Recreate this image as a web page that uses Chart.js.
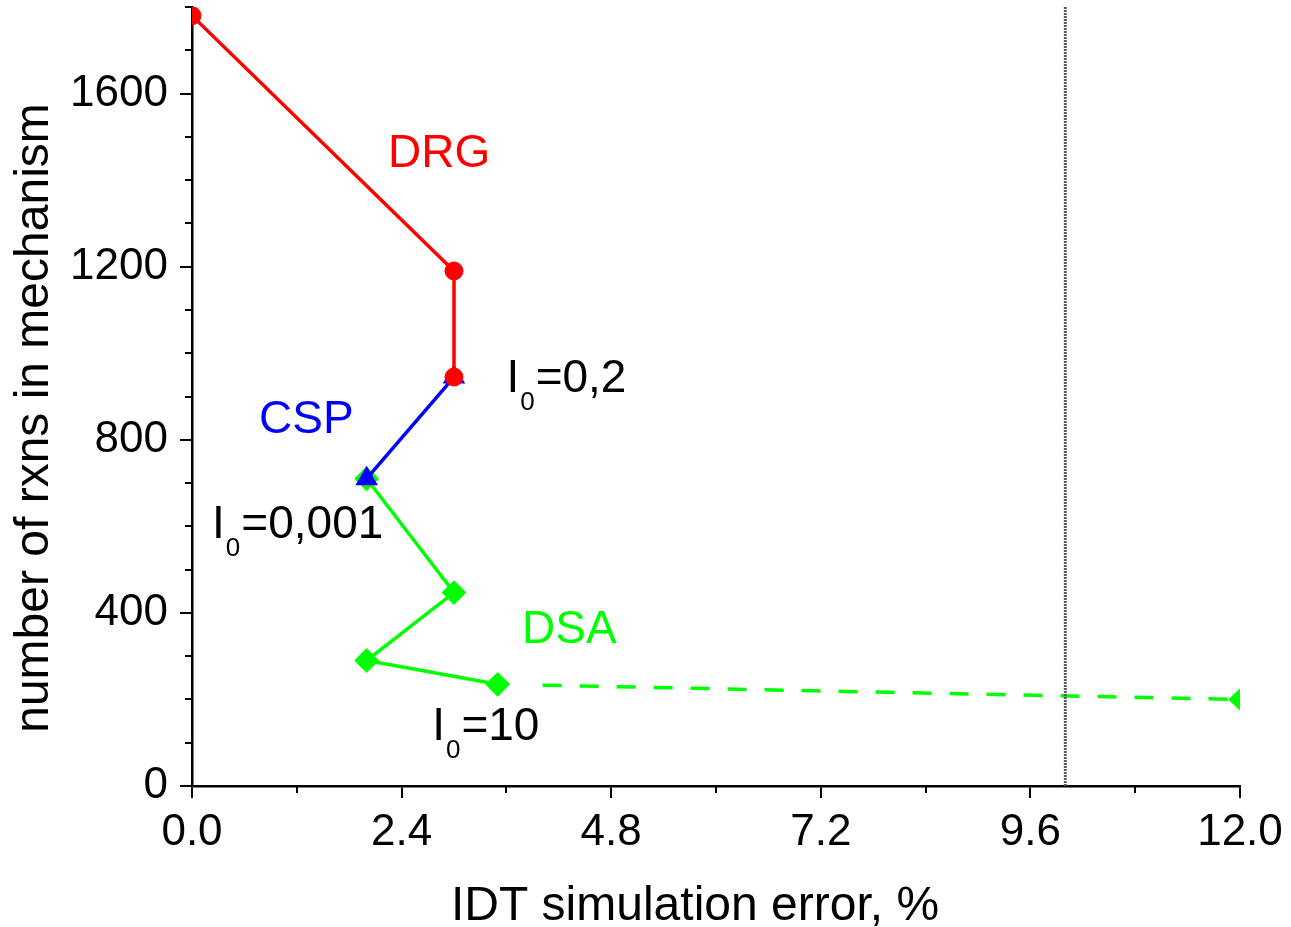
<!DOCTYPE html>
<html>
<head>
<meta charset="utf-8">
<title>Reduced mechanism size vs IDT error</title>
<script src="https://cdn.jsdelivr.net/npm/chart.js@4.4.1/dist/chart.umd.min.js"></script>
<style>
  html, body { margin: 0; padding: 0; background: #fff; }
  #wrap { width: 1291px; height: 927px; }
</style>
</head>
<body>
<div id="wrap"><canvas id="chart" width="1291" height="927"></canvas></div>
<script>
// IDT simulation error (%) and number of reactions for each reduction method
const drgError = [0, 3.0, 3.0];
const drgRxns = [1780, 1190, 945];

const cspError = [3.0, 2.0];
const cspRxns = [945, 710];

const dsaError = [2.0, 3.0, 2.0, 3.5];
const dsaRxns = [710, 447, 290, 235];

// dashed continuation of DSA towards the off-scale point
const dsaTailError = [3.5, 12.0];
const dsaTailRxns = [235, 200];

// vertical limit line
const limitError = 10.0;
const rxnRange = [0, 1800];

const xTicks = [0, 2.4, 4.8, 7.2, 9.6, 12.0];
const xMinorTicks = [1.2, 3.6, 6.0, 8.4, 10.8];
const yTicks = [0, 400, 800, 1200, 1600];
const yMinorTicks = [100, 200, 300, 500, 600, 700, 900, 1000, 1100, 1300, 1400, 1500, 1700, 1800];

// method names, placed at [error, rxns] (text baseline)
const methodNames = ['DRG', 'CSP', 'DSA'];
const methodNamePos = [[2.83, 1430], [1.31, 815], [4.32, 330]];

// I0 threshold notes, placed at [error, rxns] (left edge, baseline)
const thresholdValues = ['0,2', '0,001', '10'];
const thresholdPos = [[3.6, 910], [0.23, 573], [2.75, 106]];

const xTitle = 'IDT simulation error, %';
const yTitle = 'number of rxns in mechanism';

const RED = '#ff0000';
const BLUE = '#0000ff';
const GREEN = '#00ff00';
const FONT = '"Liberation Sans", Arial, sans-serif';

function toPoints(xs, ys) {
    return xs.map((x, i) => ({ x: x, y: ys[i] }));
}

// long gap first so the dashes line up with the original
const tailDash = [0, 45];
for (let i = 0; i < 24; i++) tailDash.push(19, 18);

// squat left-pointing arrow head for the off-scale point
const arrowHead = document.createElement('canvas');
arrowHead.width = 26;
arrowHead.height = 26;
(function () {
    const c = arrowHead.getContext('2d');
    c.fillStyle = GREEN;
    c.beginPath();
    c.moveTo(1, 13);
    c.lineTo(13, 2);
    c.lineTo(13, 24);
    c.closePath();
    c.fill();
})();

const overlay = {
    id: 'overlay',
    afterDraw(chart) {
        const ctx = chart.ctx;
        const xs = chart.scales.x;
        const ys = chart.scales.y;
        ctx.save();

        // minor ticks
        ctx.strokeStyle = '#000';
        ctx.lineWidth = 2;
        xMinorTicks.forEach(v => {
            const px = Math.round(xs.getPixelForValue(v));
            ctx.beginPath();
            ctx.moveTo(px, xs.top);
            ctx.lineTo(px, xs.top + 7);
            ctx.stroke();
        });
        yMinorTicks.forEach(v => {
            const py = Math.round(ys.getPixelForValue(v));
            ctx.beginPath();
            ctx.moveTo(ys.right, py);
            ctx.lineTo(ys.right - 7, py);
            ctx.stroke();
        });

        // method names
        const colors = [RED, BLUE, GREEN];
        ctx.font = '46px ' + FONT;
        ctx.textAlign = 'center';
        ctx.textBaseline = 'alphabetic';
        methodNames.forEach((name, i) => {
            ctx.fillStyle = colors[i];
            ctx.fillText(name, xs.getPixelForValue(methodNamePos[i][0]), ys.getPixelForValue(methodNamePos[i][1]));
        });

        // I0 = ... notes with subscript
        ctx.fillStyle = '#000';
        ctx.textAlign = 'left';
        thresholdValues.forEach((val, i) => {
            let px = xs.getPixelForValue(thresholdPos[i][0]);
            const py = ys.getPixelForValue(thresholdPos[i][1]);
            ctx.font = '46px ' + FONT;
            ctx.fillText('I', px, py);
            px += ctx.measureText('I').width + 1;
            ctx.font = '26px ' + FONT;
            ctx.fillText('0', px, py + 18);
            px += ctx.measureText('0').width + 1;
            ctx.font = '46px ' + FONT;
            ctx.fillText('=' + val, px, py);
        });

        // axis titles
        ctx.font = '48px ' + FONT;
        ctx.textAlign = 'center';
        ctx.fillText(xTitle, chart.chartArea.left + 503, 920);
        ctx.translate(48, chart.chartArea.top + 411);
        ctx.rotate(-Math.PI / 2);
        ctx.fillText(yTitle, 0, 0);

        ctx.restore();
    }
};

const tickFont = { family: FONT, size: 44 };

new Chart(document.getElementById('chart'), {
    type: 'scatter',
    data: {
        datasets: [
            {
                label: 'DRG',
                data: toPoints(drgError, drgRxns),
                showLine: true,
                borderColor: RED,
                backgroundColor: RED,
                borderWidth: 3.5,
                pointStyle: 'circle',
                pointRadius: 9,
                pointBorderWidth: 1,
                order: 1
            },
            {
                label: 'CSP',
                data: toPoints(cspError, cspRxns),
                showLine: true,
                borderColor: BLUE,
                backgroundColor: BLUE,
                borderWidth: 3.5,
                pointStyle: 'triangle',
                pointRadius: 11,
                pointBorderWidth: 2,
                order: 2
            },
            {
                label: 'DSA',
                data: toPoints(dsaError, dsaRxns),
                showLine: true,
                borderColor: GREEN,
                backgroundColor: GREEN,
                borderWidth: 3.5,
                pointStyle: 'rectRot',
                pointRadius: 11,
                pointBorderWidth: 2,
                order: 3
            },
            {
                label: 'DSA (off scale)',
                data: toPoints(dsaTailError, dsaTailRxns),
                showLine: true,
                borderColor: GREEN,
                backgroundColor: GREEN,
                borderWidth: 3.5,
                borderDash: tailDash,
                pointStyle: [false, arrowHead],
                pointRadius: [0, 12],
                order: 4
            },
            {
                label: 'limit',
                data: toPoints([limitError, limitError], rxnRange),
                showLine: true,
                borderColor: '#5a5a5a',
                borderWidth: 3,
                borderDash: [2, 1],
                pointRadius: 0,
                order: 0
            }
        ]
    },
    options: {
        responsive: false,
        animation: false,
        layout: { autoPadding: false, padding: { top: 7, right: 51, left: 0, bottom: 0 } },
        plugins: {
            legend: { display: false },
            tooltip: { enabled: false }
        },
        scales: {
            x: {
                type: 'linear',
                min: 0,
                max: 12,
                afterBuildTicks: s => { s.ticks = xTicks.map(v => ({ value: v })); },
                afterFit: s => {
                    s.height = 141;
                    s.paddingLeft = 0;
                    s.paddingRight = 0;
                },
                ticks: {
                    callback: v => v.toFixed(1),
                    color: '#000',
                    font: tickFont,
                    padding: 8,
                    maxRotation: 0,
                    autoSkip: false
                },
                grid: { drawOnChartArea: false, lineWidth: 2, tickLength: 12, tickWidth: 2, tickColor: '#000' },
                border: { color: '#000', width: 2.5 }
            },
            y: {
                type: 'linear',
                min: 0,
                max: 1800,
                afterBuildTicks: s => { s.ticks = yTicks.map(v => ({ value: v })); },
                afterFit: s => {
                    s.width = 192;
                    s.paddingTop = 0;
                    s.paddingBottom = 0;
                },
                ticks: {
                    callback: v => String(v),
                    color: '#000',
                    font: tickFont,
                    padding: 12,
                    autoSkip: false
                },
                grid: { drawOnChartArea: false, lineWidth: 2, tickLength: 12, tickWidth: 2, tickColor: '#000' },
                border: { color: '#000', width: 2.5 }
            }
        }
    },
    plugins: [overlay]
});
</script>
</body>
</html>
